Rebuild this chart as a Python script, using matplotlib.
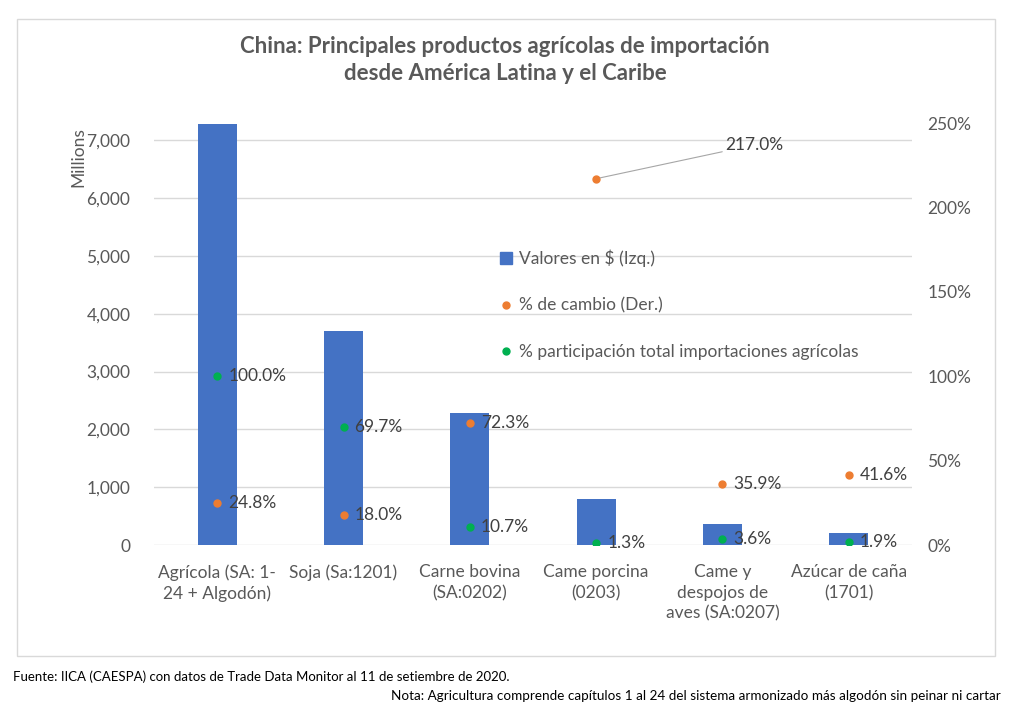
import matplotlib.pyplot as plt
from matplotlib.patches import Rectangle, Patch
from matplotlib.lines import Line2D
from matplotlib.ticker import FuncFormatter

# data
categories = ["Agrícola (SA: 1-\n24 + Algodón)", "Soja (Sa:1201)",
              "Carne bovina\n(SA:0202)", "Came porcina\n(0203)",
              "Came y\ndespojos de\naves (SA:0207)", "Azúcar de caña\n(1701)"]
values_musd = [7290, 3700, 2290, 790, 370, 215]
pct_change = [24.8, 18.0, 72.3, 217.0, 35.9, 41.6]
pct_share = [100.0, 69.7, 10.7, 1.3, 3.6, 1.9]

BLUE = "#4472C4"
ORANGE = "#ED7D31"
GREEN = "#00B050"
GRID = "#D9D9D9"
TICK = "#595959"
LABEL = "#404040"

plt.rcParams["font.family"] = ["Lato", "DejaVu Sans"]

fig = plt.figure(figsize=(10.12, 7.26), dpi=100)
W, H = 1012, 726

# chart border
fig.patches.append(Rectangle((17 / W, 1 - 656 / H), (995 - 17) / W, (656 - 19) / H,
                             transform=fig.transFigure, fill=False,
                             edgecolor=GRID, linewidth=1))

ax = fig.add_axes([154 / W, 1 - 545 / H, (912 - 154) / W, (545 - 123) / H])
ax2 = ax.twinx()

x = list(range(len(categories)))
ax.bar(x, values_musd, width=0.31, color=BLUE, zorder=2)
ax.set_xlim(-0.5, len(categories) - 0.5)
ax.set_ylim(0, 7300)
ax.set_yticks(range(0, 7001, 1000))
ax.yaxis.set_major_formatter(FuncFormatter(lambda v, p: f"{int(v):,}"))
ax.grid(axis="y", color=GRID, linewidth=1, zorder=0)
ax.set_axisbelow(True)
ax.set_xticks(x)
ax.set_xticklabels(categories, fontsize=12.5, color=TICK, linespacing=1.35)
ax.tick_params(axis="x", length=0, pad=14)
ax.tick_params(axis="y", length=0, pad=17, labelsize=12.5, labelcolor=TICK)
for s in ax.spines.values():
    s.set_visible(False)

ax2.set_ylim(0, 250)
ax2.set_yticks(range(0, 251, 50))
ax2.yaxis.set_major_formatter(FuncFormatter(lambda v, p: f"{int(v)}%"))
ax2.tick_params(axis="y", length=0, pad=11, labelsize=12.5, labelcolor=TICK)
for s in ax2.spines.values():
    s.set_visible(False)

ax2.plot(x, pct_change, "o", color=ORANGE, markersize=5, zorder=3)
ax2.plot(x, pct_share, "o", color=GREEN, markersize=5, zorder=3)

for i, v in enumerate(pct_change):
    if v > 200:
        # label pulled out with a leader line, like in the original
        ax2.annotate(f"{v:.1f}%", xy=(i, v), xytext=(i + 1.02, v + 20),
                     fontsize=12.5, color=LABEL, va="center", ha="left",
                     arrowprops=dict(arrowstyle="-", color="#A6A6A6", lw=0.8,
                                     shrinkA=0, shrinkB=3))
    else:
        ax2.annotate(f"{v:.1f}%", xy=(i, v), xytext=(8, 0),
                     textcoords="offset points", fontsize=12.5, color=LABEL,
                     va="center", ha="left")
for i, v in enumerate(pct_share):
    ax2.annotate(f"{v:.1f}%", xy=(i, v), xytext=(8, 0),
                 textcoords="offset points", fontsize=12.5, color=LABEL,
                 va="center", ha="left")

handles = [Patch(color=BLUE),
           Line2D([], [], marker="o", linestyle="", color=ORANGE, markersize=5),
           Line2D([], [], marker="o", linestyle="", color=GREEN, markersize=5)]
labels = ["Valores en $ (Izq.)", "% de cambio (Der.)",
          "% participación total importaciones agrícolas"]
leg = fig.legend(handles, labels, loc="center left",
                 bbox_to_anchor=(500 / W, 1 - 305 / H), frameon=False,
                 fontsize=12.5, labelspacing=1.75, handlelength=0.7,
                 handleheight=0.7, handletextpad=0.4, borderpad=0,
                 borderaxespad=0)
for t in leg.get_texts():
    t.set_color(TICK)

fig.text(505 / W, 1 - 60 / H,
         "China: Principales productos agrícolas de importación\ndesde América Latina y el Caribe",
         ha="center", va="center", fontsize=16, fontweight="bold",
         color=TICK, linespacing=1.3)
fig.text(78 / W, 1 - 157 / H, "Millions", rotation=90, ha="center",
         va="center", fontsize=12.5, color=TICK)

fig.text(13 / W, 1 - 677 / H,
         "Fuente: IICA (CAESPA) con datos de Trade Data Monitor al 11 de setiembre de 2020.",
         ha="left", va="center", fontsize=9.5, color="black")
fig.text(1001 / W, 1 - 696 / H,
         "Nota: Agricultura comprende capítulos 1 al 24 del sistema armonizado más algodón sin peinar ni cartar",
         ha="right", va="center", fontsize=9.75, color="black")

fig.savefig("out.png", dpi=100)
